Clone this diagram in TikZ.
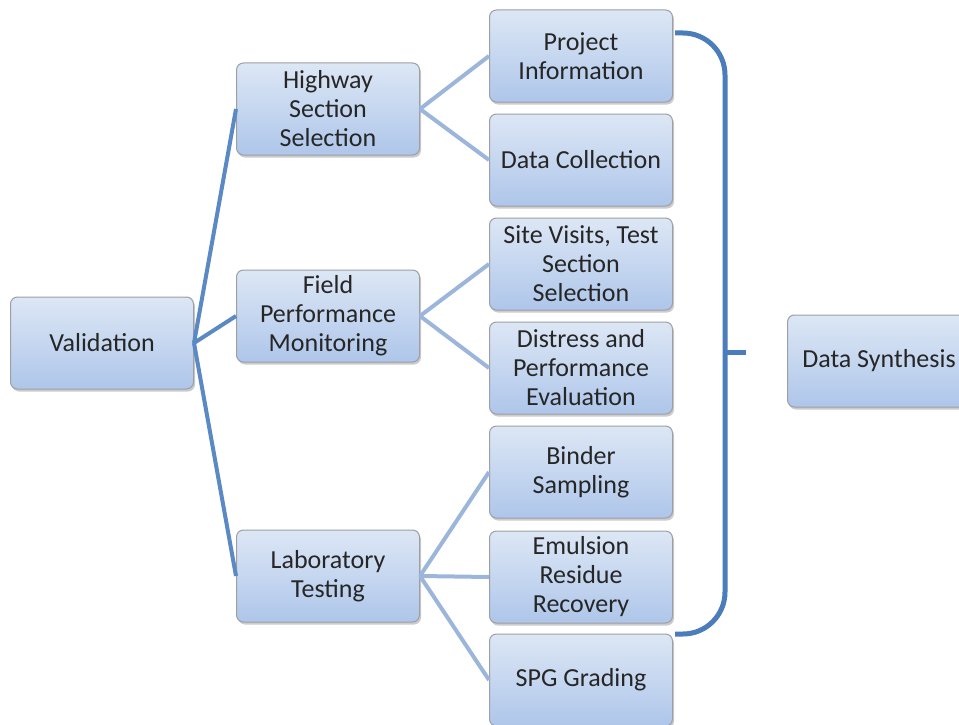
\documentclass[tikz,border=0pt]{standalone}
\usepackage{fontspec}
\setmainfont{Carlito}
\usetikzlibrary{shadows}

\definecolor{boxtop}{HTML}{DDE7F5}
\definecolor{boxbottom}{HTML}{AEC6EA}
\definecolor{boxline}{HTML}{9C9FA6}
\definecolor{linkdark}{HTML}{5B89C4}
\definecolor{linklight}{HTML}{9CB6DB}
\definecolor{bracket}{HTML}{4A7DBA}

\tikzset{
    task/.style={rectangle, rounded corners=7pt, draw=boxline, line width=1pt,
        top color=boxtop, bottom color=boxbottom,
        minimum width=183pt, minimum height=92pt, inner sep=2pt,
        align=center, text=black!85, font=\fontsize{26}{29}\selectfont,
        drop shadow={shadow xshift=1.5pt, shadow yshift=-2.5pt, fill=black!45, opacity=.45}},
    mainlink/.style={draw=linkdark, line width=4pt},
    sublink/.style={draw=linklight, line width=4pt},
    bracketline/.style={draw=bracket, line width=5pt},
}

\begin{document}
\begin{tikzpicture}[x=1pt, y=-1pt]
\useasboundingbox (0,0) rectangle (959,725);

%% Tasks
\node[task] (valid) at (102,343) {Validation};

\node[task] (highway) at (328,109) {Highway\\Section\\Selection};
\node[task] (field)   at (328,316) {Field\\Performance\\Monitoring};
\node[task] (lab)     at (328,576) {Laboratory\\Testing};

\node[task] (project)  at (581,56)  {Project\\Information};
\node[task] (collect)  at (581,160) {Data Collection};
\node[task] (site)     at (581,264) {Site Visits, Test\\Section\\Selection};
\node[task] (distress) at (581,368) {Distress and\\Performance\\Evaluation};
\node[task] (binder)   at (581,472) {Binder\\Sampling};
\node[task] (emulsion) at (581,577) {Emulsion\\Residue\\Recovery};
\node[task] (spg)      at (581,680) {SPG Grading};

\node[task] (synth) at (879,361) {Data Synthesis};

%% Links
\draw[mainlink] (valid.east) -- (highway.west);
\draw[mainlink] (valid.east) -- (field.west);
\draw[mainlink] (valid.east) -- (lab.west);

\draw[sublink] (highway.east) -- (project.west);
\draw[sublink] (highway.east) -- (collect.west);
\draw[sublink] (field.east) -- (site.west);
\draw[sublink] (field.east) -- (distress.west);
\draw[sublink] (lab.east) -- (binder.west);
\draw[sublink] (lab.east) -- (emulsion.west);
\draw[sublink] (lab.east) -- (spg.west);

%% Bracket
\coordinate (btop) at (675,33);
\coordinate (bbot) at (675,634);
\coordinate (bmid) at (725,352);
\coordinate (btick) at (746,352);
\draw[bracketline, rounded corners=42pt] (btop) -| (bmid) |- (bbot);
\draw[bracketline] (bmid) -- (btick);
\end{tikzpicture}
\end{document}
